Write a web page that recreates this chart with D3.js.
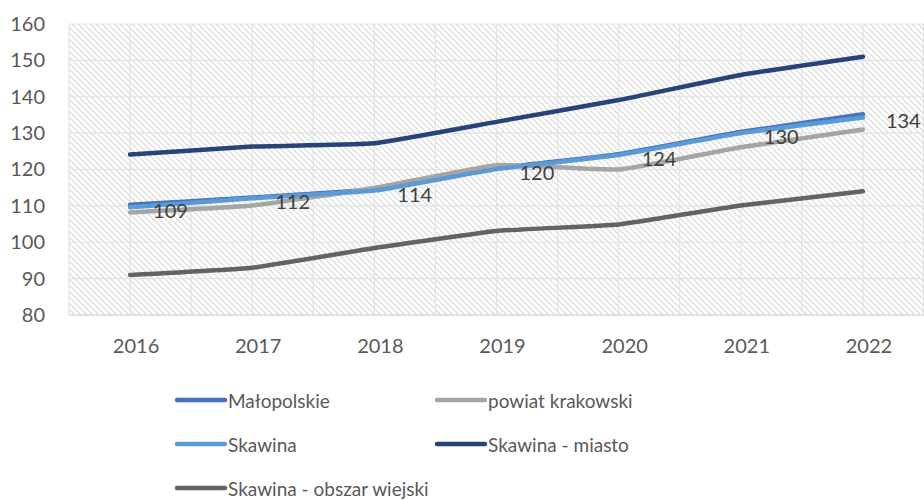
<!DOCTYPE html>
<html>
<head>
<meta charset="utf-8">
<script src="https://cdn.jsdelivr.net/npm/d3@7"></script>
<style>
  body { margin: 0; background: #fff; }
  svg { display: block; font-family: Lato, "Open Sans", sans-serif; }
</style>
</head>
<body>
<svg id="chart" width="924" height="500"></svg>
<script>
// data
const years = ['2016', '2017', '2018', '2019', '2020', '2021', '2022']
const malopolskie = [110.3, 112.3, 114.6, 120.3, 124.2, 130.3, 135.2]
const powiatKrakowski = [108.2, 110.1, 114.9, 121.2, 120.0, 126.1, 131.0]
const skawina = [109.6, 112.1, 114.2, 120.1, 124.0, 130.0, 134.3]
const skawinaMiasto = [124.1, 126.3, 127.2, 133.1, 139.1, 146.0, 151.0]
const skawinaWies = [91.0, 93.0, 98.4, 103.1, 104.9, 110.1, 114.0]
const yTicks = [80, 90, 100, 110, 120, 130, 140, 150, 160]

const series = [
  { name: 'Małopolskie', values: malopolskie, color: '#4472C4' },
  { name: 'powiat krakowski', values: powiatKrakowski, color: '#A5A5A5' },
  { name: 'Skawina', values: skawina, color: '#5B9BD5', labels: true },
  { name: 'Skawina - miasto', values: skawinaMiasto, color: '#264478' },
  { name: 'Skawina - obszar wiejski', values: skawinaWies, color: '#636363' }
]

const margin = { top: 24, right: 0, bottom: 185, left: 69 }
const width = 924
const height = 500

const svg = d3.select('#chart')

// hatch fill for the plot area
const defs = svg.append('defs')
const pat = defs.append('pattern')
  .attr('id', 'hatch')
  .attr('patternUnits', 'userSpaceOnUse')
  .attr('width', 6).attr('height', 6)
pat.append('rect').attr('width', 6).attr('height', 6).attr('fill', '#fff')
pat.append('path')
  .attr('d', 'M-1,-1 L7,7 M-1,5 L1,7 M5,-1 L7,1')
  .attr('stroke', '#d9d9d9')
  .attr('stroke-width', 1.2)

const xScale = d3.scaleBand()
  .domain(years)
  .range([margin.left, width - margin.right])
  .paddingInner(0)

const yScale = d3.scaleLinear()
  .domain([80, 160])
  .range([height - margin.bottom, margin.top])

const xPos = (i) => xScale(years[i]) + xScale.bandwidth() / 2

svg.append('rect')
  .attr('x', margin.left)
  .attr('y', margin.top)
  .attr('width', width - margin.right - margin.left)
  .attr('height', yScale(80) - margin.top)
  .attr('fill', 'url(#hatch)')

// grid: horizontal at ticks, vertical at band edges and centres
const grid = svg.append('g').attr('stroke', '#e3e3e3').attr('stroke-width', 1.2)
grid.selectAll('.hg')
  .data(yTicks.slice(1))
  .enter()
  .append('line')
  .attr('x1', margin.left).attr('x2', width - margin.right)
  .attr('y1', d => yScale(d)).attr('y2', d => yScale(d))

const vLines = []
years.forEach(y => {
  vLines.push(xScale(y))
  vLines.push(xScale(y) + xScale.bandwidth() / 2)
})
vLines.push(width - margin.right - 0.5)
grid.selectAll('.vg')
  .data(vLines)
  .enter()
  .append('line')
  .attr('x1', d => d).attr('x2', d => d)
  .attr('y1', margin.top).attr('y2', yScale(80))

// x axis line
svg.append('line')
  .attr('x1', margin.left).attr('x2', width)
  .attr('y1', yScale(80)).attr('y2', yScale(80))
  .attr('stroke', '#d9d9d9').attr('stroke-width', 1.5)

// y axis
const yAxisG = svg.append('g')
  .attr('transform', `translate(${margin.left - 24}, 0)`)
  .call(d3.axisLeft(yScale).tickValues(yTicks).tickSize(0).tickPadding(0))
yAxisG.select('.domain').remove()
yAxisG.selectAll('text')
  .attr('font-size', 20)
  .attr('fill', '#595959')
  .attr('font-family', 'Lato, "Open Sans", sans-serif')

// x axis
const xAxisG = svg.append('g')
  .attr('transform', `translate(6, ${yScale(80)})`)
  .call(d3.axisBottom(xScale).tickSize(0).tickPadding(24))
xAxisG.select('.domain').remove()
xAxisG.selectAll('text')
  .attr('font-size', 20)
  .attr('fill', '#595959')
  .attr('font-family', 'Lato, "Open Sans", sans-serif')

// lines (lightly smoothed, like the source)
const line = d3.line()
  .x((d, i) => xPos(i))
  .y(d => yScale(d))
  .curve(d3.curveCardinal.tension(0.65))

svg.selectAll('.series')
  .data(series)
  .enter()
  .append('path')
  .attr('d', d => line(d.values))
  .attr('fill', 'none')
  .attr('stroke', d => d.color)
  .attr('stroke-width', 4.5)
  .attr('stroke-linecap', 'round')
  .attr('stroke-linejoin', 'round')

// data labels for Skawina
const labelled = series.filter(s => s.labels)[0]
svg.selectAll('.dlabel')
  .data(labelled.values)
  .enter()
  .append('text')
  .attr('x', (d, i) => xPos(i) + 23)
  .attr('y', d => yScale(d) + 3)
  .attr('dominant-baseline', 'central')
  .attr('font-size', 20)
  .attr('fill', '#404040')
  .text(d => d3.format('.0f')(Math.floor(d)))

// legend, two columns
const legend = svg.append('g')
const legendItems = legend.selectAll('.leg')
  .data(series)
  .enter()
  .append('g')
  .attr('transform', (d, i) => `translate(${i % 2 === 0 ? 177 : 437}, ${400 + Math.floor(i / 2) * 44})`)
legendItems.append('line')
  .attr('x1', 0).attr('x2', 48)
  .attr('stroke', d => d.color)
  .attr('stroke-width', 4.5)
  .attr('stroke-linecap', 'round')
legendItems.append('text')
  .attr('x', 51)
  .attr('dominant-baseline', 'central')
  .attr('font-size', 19)
  .attr('fill', '#595959')
  .text(d => d.name)
</script>
</body>
</html>
